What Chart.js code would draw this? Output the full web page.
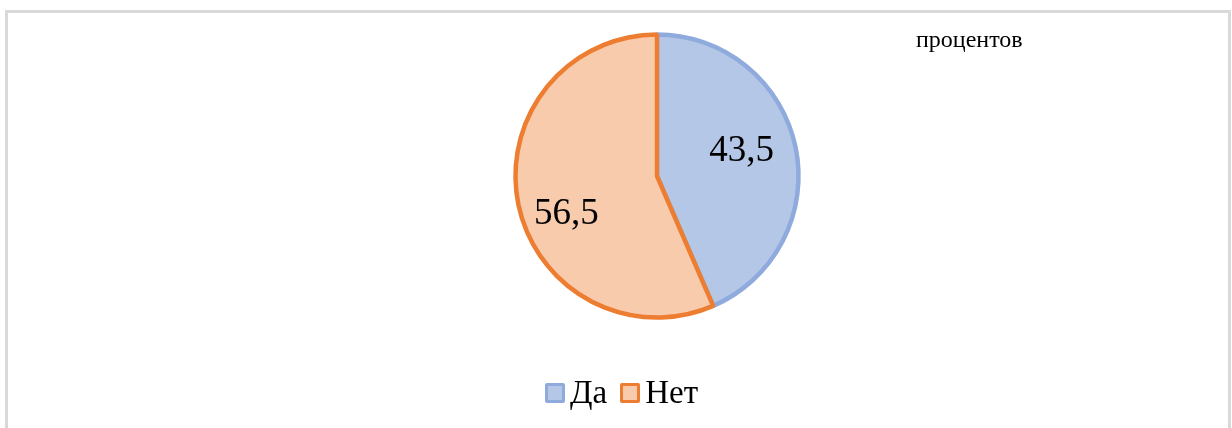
<!DOCTYPE html>
<html>
<head>
<meta charset="utf-8">
<script src="https://cdn.jsdelivr.net/npm/chart.js@4"></script>
<style>
  html, body { margin: 0; padding: 0; background: #fff; }
  body { width: 1232px; height: 428px; position: relative; overflow: hidden; font-family: "Liberation Serif", "Times New Roman", serif; }
  #frame { position: absolute; left: 5px; top: 10px; width: 1220px; height: 440px; border: 3px solid #d9d9d9; border-bottom: none; }
  #chart { position: absolute; left: 0; top: 0; }
  #unit { position: absolute; left: 916px; top: 26px; font-size: 24px; color: #000; }
  #legend { position: absolute; left: 545px; top: 374px; display: flex; align-items: center; font-size: 33px; color: #000; }
  .item { display: flex; align-items: center; margin-right: 13px; }
  .box { width: 14px; height: 14px; border: 3px solid; margin-right: 5px; border-radius: 2px; }
</style>
</head>
<body>
<div id="frame"></div>
<canvas id="chart" width="1232" height="428"></canvas>
<div id="unit">процентов</div>
<div id="legend"></div>
<script>
// categories and values (percent)
const labels = ['Да', 'Нет'];
const values = [43.5, 56.5];
const valueText = ['43,5', '56,5'];
const fillColors = ['#b4c7e7', '#f8cbad'];
const borderColors = ['#8faadc', '#ed7d31'];

// label placement around the slice middle
const labelPlugin = {
  id: 'sliceLabels',
  afterDatasetsDraw(chart, args, opts) {
    const ctx = chart.ctx;
    const meta = chart.getDatasetMeta(0);
    ctx.save();
    ctx.font = '37px "Liberation Serif", "Times New Roman", serif';
    ctx.fillStyle = '#000';
    ctx.textAlign = 'center';
    ctx.textBaseline = 'middle';
    meta.data.forEach((arc, i) => {
      const p = arc.getProps(['x', 'y', 'startAngle', 'endAngle', 'outerRadius'], true);
      const mid = (p.startAngle + p.endAngle) / 2;
      const r = p.outerRadius * 0.64;
      const off = opts.offsets[i] || [0, 0];
      ctx.fillText(valueText[i], p.x + Math.cos(mid) * r + off[0], p.y + Math.sin(mid) * r + off[1]);
    });
    ctx.restore();
  }
};

const chart = new Chart(document.getElementById('chart'), {
  type: 'pie',
  data: {
    labels: labels,
    datasets: [{
      data: values,
      backgroundColor: fillColors,
      borderColor: borderColors,
      borderWidth: 4.5,
      radius: 141.5
    }]
  },
  options: {
    responsive: false,
    animation: false,
    events: [],
    layout: { padding: { left: 82, right: 0, top: 0, bottom: 76 } },
    plugins: {
      legend: { display: false },
      tooltip: { enabled: false },
      sliceLabels: { offsets: [[-4, -6], [-2, 20]] }
    }
  },
  plugins: [labelPlugin]
});

// legend built from the same arrays
const legend = document.getElementById('legend');
labels.forEach((l, i) => {
  const item = document.createElement('div');
  item.className = 'item';
  const box = document.createElement('span');
  box.className = 'box';
  box.style.background = fillColors[i];
  box.style.borderColor = borderColors[i];
  item.appendChild(box);
  item.appendChild(document.createTextNode(l));
  legend.appendChild(item);
});
</script>
</body>
</html>
